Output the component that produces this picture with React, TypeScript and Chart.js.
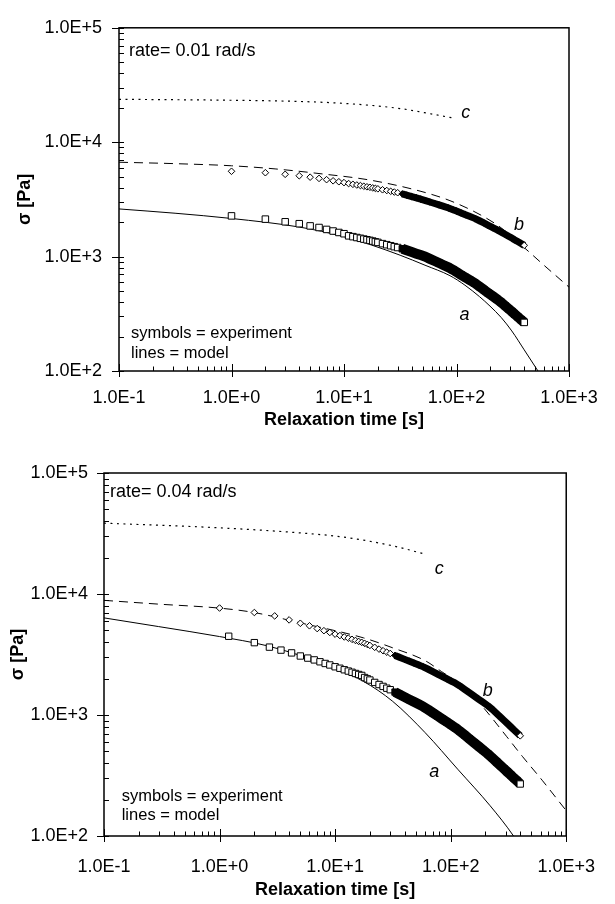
import { useEffect, useRef } from 'react';
import { Chart, registerables } from 'chart.js';

Chart.register(...registerables);

const FONT = '"Liberation Sans", Arial, Helvetica, sans-serif';
const INK = '#000';
const CLEAR = 'rgba(0,0,0,0)';

// Sampling times of the measured stress relaxation [s]
const TIMES = [
  1, 2, 3, 4, 5, 6, 7, 8, 9, 10, 11, 12, 13, 14, 15, 16, 17, 18, 19, 20,
  22, 24, 26, 28, 30, 33, 36, 40, 44, 48, 53, 58, 64, 70, 77, 85, 93, 100,
  110, 120, 132, 145, 160, 175, 190, 210, 230, 250, 270, 290, 310, 330, 350, 375, 400,
];
const TIMES_A_004 = [
  1.2, 2, 2.7, 3.4, 4.2, 5, 5.8, 6.6, 7.4, 8.2, 9,
  10, 11, 12, 13, 14, 15, 16, 17, 18, 19, 20,
  22, 24, 26, 28, 30, 33, 36, 40, 44, 48, 53, 58, 64, 70, 77, 85, 93, 100,
  110, 120, 132, 145, 160, 175, 190, 210, 230, 250, 270, 290, 310, 330, 350, 375, 400,
];

// Measured stress [Pa], rate 0.01 rad/s
const EXP_A_001 = [
  2269, 2126, 2015, 1939, 1855, 1796, 1728, 1673, 1625, 1585, 1519, 1494, 1468, 1445, 1423, 1404, 1386, 1367, 1346, 1331,
  1298, 1271, 1245, 1221, 1200, 1170, 1135, 1096, 1061, 1031, 996, 955, 914, 878, 841, 805, 766, 733,
  692, 657, 620, 587, 547, 514, 484, 451, 423, 397, 372, 350, 331, 313, 298, 281, 266,
];
const EXP_B_001 = [
  5569, 5412, 5239, 5090, 4946, 4825, 4705, 4598, 4511, 4434, 4349, 4283, 4226, 4177, 4121, 4074, 4035, 3989, 3951, 3913,
  3839, 3781, 3723, 3666, 3617, 3535, 3448, 3350, 3261, 3181, 3090, 3003, 2912, 2829, 2744, 2661, 2570, 2502,
  2408, 2326, 2243, 2159, 2058, 1969, 1887, 1792, 1712, 1638, 1570, 1508, 1451, 1399, 1354, 1301, 1254,
];

// Measured stress [Pa], rate 0.04 rad/s
const EXP_A_004 = [
  4476, 3963, 3639, 3438, 3260, 3073, 2953, 2853, 2753, 2666, 2591,
  2504, 2434, 2365, 2307, 2255, 2204, 2162, 2123, 2040, 1990, 1945,
  1859, 1786, 1723, 1665, 1618, 1546, 1480, 1406, 1341, 1286, 1226, 1172, 1105, 1044, 982, 923, 872, 833,
  784, 736, 684, 636, 588, 549, 515, 476, 440, 409, 382, 359, 338, 320, 303, 286, 269,
];
const EXP_B_004 = [
  7657, 7031, 6591, 6109, 5728, 5462, 5179, 4977, 4810, 4657, 4536, 4416, 4317, 4220, 4131, 4053, 3984, 3910, 3829, 3758,
  3625, 3504, 3400, 3304, 3224, 3109, 3004, 2882, 2780, 2691, 2591, 2499, 2388, 2286, 2180, 2079, 1986, 1916,
  1830, 1739, 1631, 1531, 1433, 1349, 1276, 1192, 1109, 1028, 960, 900, 849, 802, 759, 714, 673,
];

// Model curves, rate 0.01 rad/s
const MOD_A_001_T = [0.1, 0.315, 1, 4, 10, 17.7, 31.5, 52.5, 87.5, 119, 160, 198.6, 250, 310, 400, 530, 651];
const MOD_A_001 = [2610, 2394, 2154, 1813, 1496, 1259, 1029, 841, 681, 562, 447, 369, 293, 224, 153, 100, 73.6];
const MOD_B_001_T = [0.1, 0.315, 1, 2.44, 6.12, 17, 47.4, 87.5, 162, 244, 406, 612, 1000];
const MOD_B_001 = [6683, 6494, 6223, 5843, 5309, 4666, 3737, 3083, 2326, 1813, 1182, 825, 541];
const MOD_C_001_T = [0.1, 1, 4.06, 11.3, 31.5, 61.8, 93.7];
const MOD_C_001 = [23714, 23263, 22700, 21670, 19690, 17550, 16260];

// Model curves, rate 0.04 rad/s
const MOD_A_004_T = [0.1, 0.297, 1, 2.52, 6.65, 17.6, 31.5, 60.1, 115, 219.7, 350, 478];
const MOD_A_004 = [6347, 5379, 4449, 3751, 2821, 1894, 1296, 715, 356.6, 177.7, 100, 62];
const MOD_B_004_T = [0.1, 0.297, 1, 1.944, 4.87, 17.6, 31.5, 59.8, 83.1, 115, 148.9, 192.9, 303.9, 419.6, 618.9, 975, 1124];
const MOD_B_004 = [8861, 8246, 7642, 7058, 5803, 4340, 3591, 2821, 2290, 1859, 1508, 1146, 667, 452, 289, 167, 141];
const MOD_C_004_T = [0.1, 1, 4.51, 11.9, 31.5, 59.7];
const MOD_C_004 = [38490, 35220, 32210, 29510, 25020, 21380];

// Axis decades
const X_DECADES = [0.1, 1, 10, 100, 1000];
const Y_DECADES = [100, 1000, 10000, 100000];

// Beyond this time the dense symbols merge into a solid band
const SOLID_FROM = 33;

const sci = (v: number) => {
  const e = Math.round(Math.log10(v));
  return `1.0E${e < 0 ? '-' : '+'}${Math.abs(e)}`;
};

const pts = (ts: number[], vs: number[]) => ts.map((x, i) => ({ x, y: vs[i] }));

function measured(ts: number[], vs: number[], style: string, radius: number, band: number) {
  const last = ts.length - 1;
  return {
    data: pts(ts, vs),
    showLine: true,
    borderWidth: band,
    borderColor: INK,
    borderCapStyle: 'butt',
    borderJoinStyle: 'round',
    segment: {
      borderColor: (c: any) => (ts[c.p0DataIndex] >= SOLID_FROM ? INK : CLEAR),
    },
    pointStyle: style,
    pointRadius: radius,
    pointHoverRadius: radius,
    pointBorderWidth: 1,
    pointBorderColor: INK,
    pointBackgroundColor: (c: any) =>
      c.dataIndex < last && ts[c.dataIndex] >= SOLID_FROM ? INK : '#fff',
  };
}

function model(ts: number[], vs: number[], dash: number[], width = 1) {
  return {
    data: pts(ts, vs),
    showLine: true,
    borderColor: INK,
    borderWidth: width,
    borderDash: dash,
    pointRadius: 0,
    pointHoverRadius: 0,
    cubicInterpolationMode: 'monotone',
    fill: false,
  };
}

type Label = { text: string; t: number; s: number };
type Spec = {
  top: number;
  height: number;
  padTop: number;
  padRight: number;
  yWidth: number;
  xHeight: number;
  yTickPad: number;
  xTickPad: number;
  xTitlePad: number;
  yTitlePad: number;
  rate: string;
  rateAt: [number, number];
  notesAt: [number, number, number];
  datasets: any[];
  labels: Label[];
};

const PANELS: Spec[] = [
  {
    top: 0,
    height: 440,
    padTop: 12,
    padRight: 46,
    yWidth: 119,
    xHeight: 69,
    yTickPad: 17,
    xTickPad: 16,
    xTitlePad: 9,
    yTitlePad: 14,
    rate: 'rate= 0.01 rad/s',
    rateAt: [10, 28.5],
    notesAt: [12, 32.7, 12.7],
    datasets: [
      measured(TIMES, EXP_A_001, 'rect', 4.6, 10),
      measured(TIMES, EXP_B_001, 'rectRot', 3.3, 7),
      model(MOD_A_001_T, MOD_A_001, []),
      model(MOD_B_001_T, MOD_B_001, [9, 6]),
      model(MOD_C_001_T, MOD_C_001, [2, 4.5], 1.2),
    ],
    labels: [
      { text: 'c', t: 121, s: 16390 },
      { text: 'b', t: 359, s: 1715 },
      { text: 'a', t: 118, s: 281 },
    ],
  },
  {
    top: 440,
    height: 464,
    padTop: 33,
    padRight: 38,
    yWidth: 104,
    xHeight: 68,
    yTickPad: 16,
    xTickPad: 20,
    xTitlePad: 3,
    yTitlePad: 7,
    rate: 'rate= 0.04 rad/s',
    rateAt: [6, 24.3],
    notesAt: [17.7, 35.3, 16],
    datasets: [
      measured(TIMES_A_004, EXP_A_004, 'rect', 4.5, 10),
      measured(TIMES, EXP_B_004, 'rectRot', 3.3, 7),
      model(MOD_A_004_T, MOD_A_004, []),
      model(MOD_B_004_T, MOD_B_004, [9, 6]),
      model(MOD_C_004_T, MOD_C_004, [2, 4.5], 1.2),
    ],
    labels: [
      { text: 'c', t: 79.5, s: 14640 },
      { text: 'b', t: 209, s: 1436 },
      { text: 'a', t: 72.2, s: 309 },
    ],
  },
];

// Frame, inward minor ticks, crossing major ticks and the in-plot notes
function framePlugin(spec: Spec) {
  return {
    id: 'frameAndNotes',
    afterDraw(chart: any) {
      const { ctx, chartArea: a } = chart;
      const xs = chart.scales.x;
      const ys = chart.scales.y;
      ctx.save();
      ctx.strokeStyle = INK;
      ctx.lineWidth = 1.5;
      ctx.strokeRect(a.left, a.top, a.right - a.left, a.bottom - a.top);

      ctx.lineWidth = 1;
      ctx.beginPath();
      for (let e = -1; e <= 2; e++) {
        for (let k = 1; k <= 9; k++) {
          const px = Math.round(xs.getPixelForValue(k * Math.pow(10, e))) + 0.5;
          if (k === 1) {
            ctx.moveTo(px, a.bottom - 7);
            ctx.lineTo(px, a.bottom + 6);
          } else {
            ctx.moveTo(px, a.bottom - 4.5);
            ctx.lineTo(px, a.bottom);
          }
        }
      }
      const pEnd = Math.round(xs.getPixelForValue(1000)) + 0.5;
      ctx.moveTo(pEnd, a.bottom - 7);
      ctx.lineTo(pEnd, a.bottom + 6);
      for (let e = 2; e <= 4; e++) {
        for (let k = 1; k <= 9; k++) {
          const py = Math.round(ys.getPixelForValue(k * Math.pow(10, e))) + 0.5;
          if (k === 1) {
            ctx.moveTo(a.left - 7, py);
            ctx.lineTo(a.left + 5, py);
          } else {
            ctx.moveTo(a.left, py);
            ctx.lineTo(a.left + 5, py);
          }
        }
      }
      const pTop = Math.round(ys.getPixelForValue(100000)) + 0.5;
      ctx.moveTo(a.left - 7, pTop);
      ctx.lineTo(a.left + 5, pTop);
      ctx.stroke();

      ctx.fillStyle = INK;
      ctx.textAlign = 'left';
      ctx.textBaseline = 'alphabetic';
      ctx.font = `18px ${FONT}`;
      ctx.fillText(spec.rate, a.left + spec.rateAt[0], a.top + spec.rateAt[1]);
      ctx.font = `16.5px ${FONT}`;
      ctx.fillText('symbols = experiment', a.left + spec.notesAt[0], a.bottom - spec.notesAt[1]);
      ctx.fillText('lines = model', a.left + spec.notesAt[0], a.bottom - spec.notesAt[2]);

      ctx.font = `italic 18px ${FONT}`;
      ctx.textAlign = 'center';
      for (const l of spec.labels) {
        ctx.fillText(l.text, xs.getPixelForValue(l.t), ys.getPixelForValue(l.s));
      }
      ctx.restore();
    },
  };
}

function buildConfig(spec: Spec): any {
  return {
    type: 'scatter',
    data: { datasets: spec.datasets },
    options: {
      responsive: false,
      maintainAspectRatio: false,
      animation: false,
      events: [],
      layout: { padding: { top: spec.padTop, right: spec.padRight, left: 0, bottom: 0 } },
      plugins: { legend: { display: false }, tooltip: { enabled: false } },
      scales: {
        x: {
          type: 'logarithmic',
          position: 'bottom',
          min: 0.1,
          max: 1000,
          grid: { display: false, drawTicks: false, tickLength: 0 },
          border: { display: false },
          afterBuildTicks: (s: any) => {
            s.ticks = X_DECADES.map((value) => ({ value }));
          },
          afterFit: (s: any) => {
            s.height = spec.xHeight;
          },
          ticks: {
            callback: (v: any) => sci(Number(v)),
            color: INK,
            font: { family: FONT, size: 18 },
            padding: spec.xTickPad,
            maxRotation: 0,
            autoSkip: false,
          },
          title: {
            display: true,
            text: 'Relaxation time [s]',
            color: INK,
            font: { family: FONT, size: 18, weight: 'bold' },
            padding: { top: 0, bottom: spec.xTitlePad },
          },
        },
        y: {
          type: 'logarithmic',
          position: 'left',
          min: 100,
          max: 100000,
          grid: { display: false, drawTicks: false, tickLength: 0 },
          border: { display: false },
          afterBuildTicks: (s: any) => {
            s.ticks = Y_DECADES.map((value) => ({ value }));
          },
          afterFit: (s: any) => {
            s.width = spec.yWidth;
          },
          ticks: {
            callback: (v: any) => sci(Number(v)),
            color: INK,
            font: { family: FONT, size: 18 },
            padding: spec.yTickPad,
            autoSkip: false,
          },
          title: {
            display: true,
            text: 'σ [Pa]',
            color: INK,
            font: { family: FONT, size: 18, weight: 'bold' },
            padding: { top: spec.yTitlePad, bottom: 0 },
          },
        },
      },
    },
    plugins: [framePlugin(spec)],
  };
}

function RelaxationPanel({ spec }: { spec: Spec }) {
  const ref = useRef<HTMLCanvasElement>(null);
  useEffect(() => {
    if (!ref.current) return;
    const chart = new Chart(ref.current, buildConfig(spec));
    return () => chart.destroy();
  }, [spec]);
  return (
    <canvas
      ref={ref}
      width={615}
      height={spec.height}
      style={{ position: 'absolute', left: 0, top: spec.top, width: 615, height: spec.height }}
    />
  );
}

export default function App() {
  return (
    <div style={{ position: 'absolute', left: 0, top: 0, width: 615, height: 904, background: '#fff' }}>
      {PANELS.map((p, i) => (
        <RelaxationPanel key={i} spec={p} />
      ))}
    </div>
  );
}
